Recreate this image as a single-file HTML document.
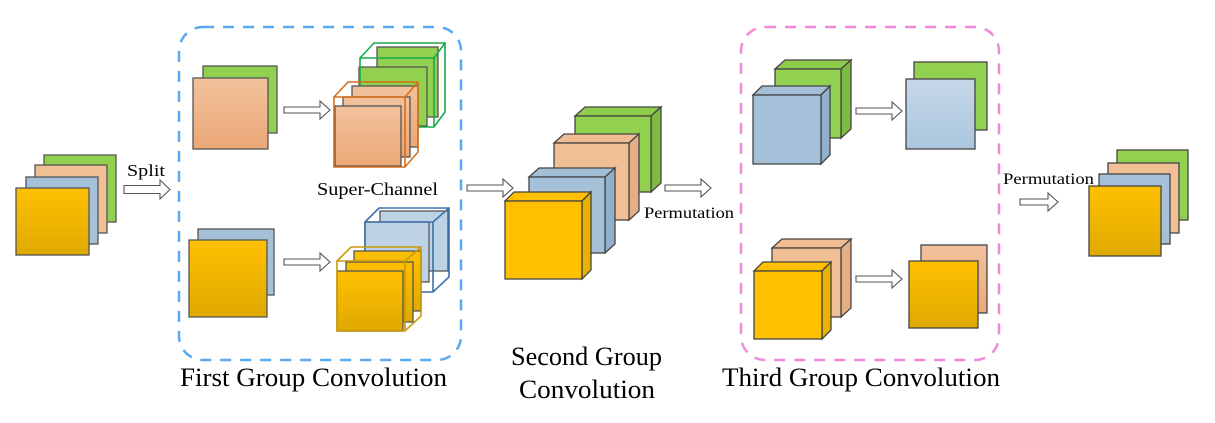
<!DOCTYPE html>
<html><head><meta charset="utf-8"><style>html,body{margin:0;padding:0;background:#fff}svg{display:block}</style></head><body>
<svg width="1215" height="423" viewBox="0 0 1215 423" xmlns="http://www.w3.org/2000/svg" font-family="'Liberation Serif',serif">
<defs>
<linearGradient id="y" x1="0" y1="0" x2="0" y2="1"><stop offset="0" stop-color="#ffc000"/><stop offset="1" stop-color="#dfa900"/></linearGradient>
<linearGradient id="p" x1="0" y1="0" x2="0" y2="1"><stop offset="0" stop-color="#f2c29c"/><stop offset="1" stop-color="#eba878"/></linearGradient>
<linearGradient id="lb" x1="0" y1="0" x2="0" y2="1"><stop offset="0" stop-color="#c6d8e8"/><stop offset="1" stop-color="#aac6de"/></linearGradient>
</defs>
<g stroke="#555" stroke-width="1.3">
<rect x="44" y="155" width="72" height="67" fill="#92d050"/>
<rect x="35" y="165" width="72" height="68" fill="#f0bf96"/>
<rect x="26" y="177" width="72" height="67" fill="#a5c0d9"/>
<rect x="16" y="188" width="73" height="67" fill="url(#y)"/>
<rect x="203" y="66" width="74" height="67" fill="#92d050"/>
<rect x="193" y="78" width="75" height="71" fill="url(#p)"/>
<rect x="198" y="229" width="76" height="66" fill="#a5c0d9"/>
<rect x="189" y="240" width="78" height="77" fill="url(#y)"/>
<rect x="377" y="47" width="61" height="70" fill="#92d050"/>
<rect x="359" y="67" width="68" height="59" fill="#92d050"/>
<rect x="380" y="211" width="68" height="60" fill="#bdd2e5"/>
<rect x="365" y="222" width="64" height="60" fill="#bdd2e5"/>
</g>
<g fill="none" stroke-width="1.6">
<path d="M360 58 L374 43 L445 43 L445 112 L434 127 L360 127 Z M360 58 L434 58 L445 43 M434 58 L434 127" stroke="#1aa94a"/>
<path d="M365 222 L379 208 L449 208 L449 277 L433 292 L365 292 Z M365 222 L433 222 L449 208 M433 222 L433 292" stroke="#3c6fa8"/>
</g>
<g stroke="#555" stroke-width="1.3">
<rect x="352" y="86" width="66" height="61" fill="url(#p)"/>
<rect x="343" y="97" width="67" height="60" fill="url(#p)"/>
<rect x="335" y="106" width="66" height="60" fill="url(#p)"/>
<rect x="354" y="251" width="67" height="60" fill="url(#y)"/>
<rect x="346" y="262" width="67" height="60" fill="url(#y)"/>
<rect x="337" y="271" width="66" height="60" fill="url(#y)"/>
</g>
<g fill="none" stroke-width="1.6">
<path d="M334 97 L348 82 L418 82 L418 152 L405 167 L334 167 Z M334 97 L405 97 L418 82 M405 97 L405 167" stroke="#d86d18"/>
<path d="M337 261 L351 247 L421 247 L421 316 L405 331 L337 331 Z M337 261 L405 261 L421 247 M405 261 L405 331" stroke="#c99a0a"/>
</g>
<g stroke="#444" stroke-width="1.3">
<polygon points="575,116 585,107 661,107 651,116" fill="#8ecc4c"/><polygon points="651,116 661,107 661,183 651,192" fill="#7fbb40"/><rect x="575" y="116" width="76" height="76" fill="#92d050"/>
<polygon points="554,143 564,134 639,134 629,143" fill="#efbc94"/><polygon points="629,143 639,134 639,211 629,220" fill="#e4ae86"/><rect x="554" y="143" width="75" height="77" fill="#f0bf96"/>
<polygon points="529,177 539,168 615,168 605,177" fill="#a3bfd8"/><polygon points="605,177 615,168 615,244 605,253" fill="#92b0cc"/><rect x="529" y="177" width="76" height="76" fill="#a5c0d9"/>
<polygon points="505,201 514,192 591,192 582,201" fill="#ffc000"/><polygon points="582,201 591,192 591,270 582,279" fill="#eab200"/><rect x="505" y="201" width="77" height="78" fill="#ffc000"/>
<polygon points="775,69 785,60 851,60 841,69" fill="#8ecc4c"/><polygon points="841,69 851,60 851,129 841,138" fill="#7fbb40"/><rect x="775" y="69" width="66" height="69" fill="#92d050"/>
<polygon points="753,95 762,86 830,86 821,95" fill="#a3bfd8"/><polygon points="821,95 830,86 830,155 821,164" fill="#92b0cc"/><rect x="753" y="95" width="68" height="69" fill="#a5c0d9"/>
<polygon points="772,248 782,239 851,239 841,248" fill="#efbc94"/><polygon points="841,248 851,239 851,308 841,317" fill="#e4ae86"/><rect x="772" y="248" width="69" height="69" fill="#f0bf96"/>
<polygon points="754,271 763,262 831,262 822,271" fill="#ffc000"/><polygon points="822,271 831,262 831,330 822,339" fill="#eab200"/><rect x="754" y="271" width="68" height="68" fill="#ffc000"/>
<rect x="914" y="62" width="73" height="68" fill="#92d050"/>
<rect x="906" y="79" width="69" height="70" fill="url(#lb)"/>
<rect x="921" y="245" width="66" height="68" fill="url(#p)"/>
<rect x="909" y="261" width="69" height="67" fill="url(#y)"/>
<rect x="1117" y="150" width="71" height="70" fill="#92d050"/>
<rect x="1108" y="163" width="71" height="70" fill="#f0bf96"/>
<rect x="1099" y="174" width="71" height="70" fill="#a5c0d9"/>
<rect x="1089" y="186" width="72" height="70" fill="url(#y)"/>
</g>
<rect x="179" y="27" width="282" height="333" rx="24" fill="none" stroke="#5aa9f0" stroke-width="2.5" stroke-dasharray="11,9"/>
<rect x="741" y="27" width="258" height="333" rx="24" fill="none" stroke="#f08ad8" stroke-width="2.5" stroke-dasharray="11,9"/>
<g fill="#fff" stroke="#555" stroke-width="1.1">
<polygon points="124,185.5 160,185.5 160,180 170,189.5 160,199 160,193.5 124,193.5"/>
<polygon points="284,107 320,107 320,101 330,110 320,119 320,113 284,113"/>
<polygon points="284,259 320,259 320,253 330,262 320,271 320,265 284,265"/>
<polygon points="467,185 503,185 503,179 513,188 503,197 503,191 467,191"/>
<polygon points="665,185 701,185 701,179 711,188 701,197 701,191 665,191"/>
<polygon points="856,108 892,108 892,102 902,111 892,120 892,114 856,114"/>
<polygon points="856,276 892,276 892,270 902,279 892,288 892,282 856,282"/>
<polygon points="1020,199 1048,199 1048,193 1058,202 1048,211 1048,205 1020,205"/>
</g>
<g fill="#000">
<text x="127" y="176" font-size="17" textLength="38" lengthAdjust="spacingAndGlyphs">Split</text>
<text x="317" y="195" font-size="18" textLength="121" lengthAdjust="spacingAndGlyphs">Super-Channel</text>
<text x="644" y="218" font-size="16" textLength="90" lengthAdjust="spacingAndGlyphs">Permutation</text>
<text x="1003" y="184" font-size="16" textLength="91" lengthAdjust="spacingAndGlyphs">Permutation</text>
<text x="180" y="386" font-size="26" textLength="267" lengthAdjust="spacingAndGlyphs">First Group Convolution</text>
<text x="511" y="365" font-size="26" textLength="151" lengthAdjust="spacingAndGlyphs">Second Group</text>
<text x="519" y="398" font-size="26" textLength="136" lengthAdjust="spacingAndGlyphs">Convolution</text>
<text x="722" y="386" font-size="26" textLength="278" lengthAdjust="spacingAndGlyphs">Third Group Convolution</text>
</g>
</svg>
</body></html>
